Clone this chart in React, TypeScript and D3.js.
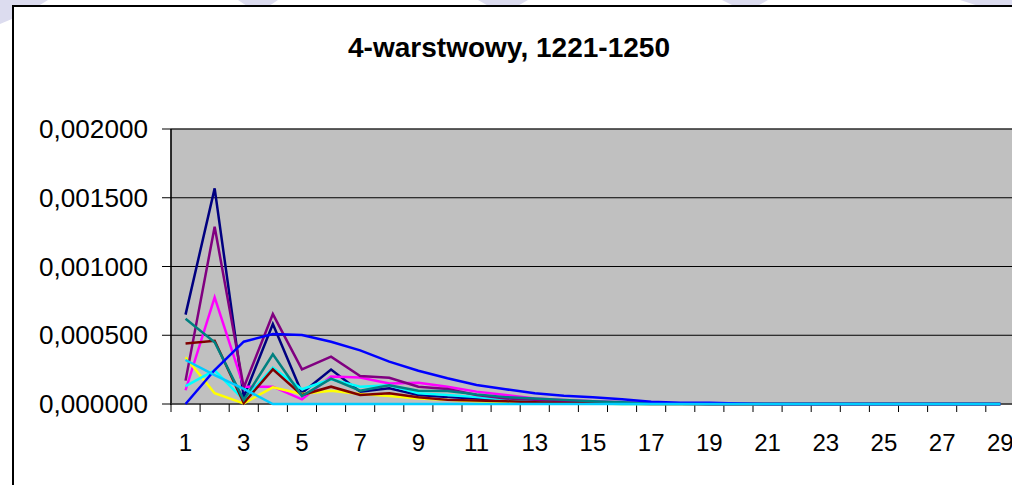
import * as d3 from 'd3';
import React from 'react';

// categories 1..29
const categories = [
  1, 2, 3, 4, 5, 6, 7, 8, 9, 10, 11, 12, 13, 14, 15, 16, 17, 18, 19, 20, 21, 22, 23, 24, 25, 26, 27, 28, 29,
];

const navy = [
  0.00065, 0.001568, 0.00005, 0.000582, 0.00008, 0.00025, 0.00009, 0.000114, 0.000065, 0.00005, 0.00004,
  0.00003, 0.00002, 0.000015, 0.00001, 0.000006, 0.000003, 0.000002, 0, 0, 0, 0, 0, 0, 0, 0, 0, 0, 0,
];
const magenta = [
  0.0001, 0.000776, 0.000126, 0.000126, 0.000034, 0.0002, 0.000192, 0.00015, 0.000155, 0.000126, 0.00009,
  0.000065, 0.00004, 0.00003, 0.00002, 0.000012, 0.000006, 0.000003, 0, 0, 0, 0, 0, 0, 0, 0, 0, 0, 0,
];
const yellow = [
  0.00034, 0.000078, 0.000005, 0.000121, 0.000073, 0.000097, 0.000073, 0.000058, 0.00004, 0.00003, 0.00002,
  0.000015, 0.00001, 0.000005, 0.000003, 0, 0, 0, 0, 0, 0, 0, 0, 0, 0, 0, 0, 0, 0,
];
const cyan = [
  0.00013, 0.000245, 0.00003, 0.000264, 0.000107, 0.00018, 0.000126, 0.000136, 0.000078, 0.000065, 0.00005,
  0.00003, 0.00002, 0.00001, 0.000005, 0, 0, 0, 0, 0, 0, 0, 0, 0, 0, 0, 0, 0, 0,
];
const purple = [
  0.00017, 0.001289, 0.00012, 0.000654, 0.000252, 0.000344, 0.000204, 0.000191, 0.000126, 0.000109, 0.000065,
  0.00004, 0.00003, 0.00002, 0.000012, 0.000008, 0.000004, 0.000002, 0, 0, 0, 0, 0, 0, 0, 0, 0, 0, 0,
];
const darkRed = [
  0.00044, 0.00046, 0.000007, 0.000252, 0.000065, 0.000126, 0.000065, 0.000078, 0.000049, 0.00003, 0.000025,
  0.00002, 0.000012, 0.000008, 0.000005, 0.000003, 0, 0, 0, 0, 0, 0, 0, 0, 0, 0, 0, 0, 0,
];
const teal = [
  0.00062, 0.000449, 0.00003, 0.000361, 0.000058, 0.000185, 0.000097, 0.000136, 0.000097, 0.000095, 0.00007,
  0.00005, 0.00004, 0.00003, 0.00002, 0.000012, 0.000006, 0.000003, 0, 0, 0, 0, 0, 0, 0, 0, 0, 0, 0,
];
const blue = [
  0, 0.000247, 0.000453, 0.000509, 0.000502, 0.000453, 0.00039, 0.000308, 0.000242, 0.000187, 0.000138,
  0.000107, 0.000078, 0.00006, 0.000049, 0.000034, 0.000017, 0.00001, 0.00001, 0.000003, 0, 0, 0, 0, 0, 0, 0, 0, 0,
];
const skyBlue = [
  0.00032, 0.00021, 0.00011, 0, 0, 0, 0, 0, 0, 0, 0, 0, 0, 0, 0, 0, 0, 0, 0, 0, 0, 0, 0, 0, 0, 0, 0, 0, 0,
];

const seriesList = [
  { name: 'S1', color: '#000080', values: navy },
  { name: 'S2', color: '#FF00FF', values: magenta },
  { name: 'S3', color: '#FFFF00', values: yellow },
  { name: 'S4', color: '#00FFFF', values: cyan },
  { name: 'S5', color: '#800080', values: purple },
  { name: 'S6', color: '#800000', values: darkRed },
  { name: 'S7', color: '#008080', values: teal },
  { name: 'S8', color: '#0000FF', values: blue },
  { name: 'S9', color: '#00CCFF', values: skyBlue },
];

const yTicks = [0, 0.0005, 0.001, 0.0015, 0.002];
const title = '4-warstwowy, 1221-1250';

const W = 1012;
const H = 485;
const font = '"Liberation Sans", Arial, sans-serif';

export default function App() {
  const plotLeft = 171;
  const band = 29.1;
  const plotTop = 129;
  const plotBottom = 404;

  const x = d3
    .scaleBand<number>()
    .domain(categories)
    .range([plotLeft, plotLeft + band * categories.length])
    .padding(0);
  const y = d3.scaleLinear().domain([0, 0.002]).range([plotBottom, plotTop]);
  const plotRight = x.range()[1];

  const line = d3
    .line<number>()
    .x((_, i) => (x(categories[i]) as number) + x.bandwidth() / 2)
    .y((d) => y(d));

  const fmt = (v: number) => d3.format('.6f')(v).replace('.', ',');

  return (
    <svg
      width={W}
      height={H}
      style={{ position: 'absolute', left: 0, top: 0, background: '#fff' }}
    >
      {/* slide background decoration */}
      <g fill="#dcdcef">
        <path d="M0,0 L48,0 Q30,12 0,24 Z" />
        <path d="M238,0 L278,0 L266,8 L250,8 Z" />
        <path d="M478,0 L528,0 L514,8 L492,8 Z" />
        <path d="M722,0 L768,0 L754,8 L738,8 Z" />
        <path d="M960,0 L1012,0 L1012,8 L985,8 Z" />
      </g>

      {/* chart area */}
      <rect x={13} y={6} width={1100} height={600} fill="#fff" stroke="#000" strokeWidth={2} />

      <text
        x={509}
        y={57}
        textAnchor="middle"
        fontFamily={font}
        fontWeight="bold"
        fontSize={27}
        textLength={322}
        lengthAdjust="spacingAndGlyphs"
        fill="#000"
      >
        {title}
      </text>

      {/* plot area */}
      <rect
        x={plotLeft}
        y={plotTop}
        width={plotRight - plotLeft}
        height={plotBottom - plotTop}
        fill="#C0C0C0"
        stroke="#808080"
        strokeWidth={1}
      />
      {yTicks.map((t) => (
        <g key={t}>
          {t > 0 && (
            <line x1={plotLeft} x2={plotRight} y1={y(t)} y2={y(t)} stroke="#000" strokeWidth={1} />
          )}
          <line x1={162} x2={plotLeft} y1={y(t)} y2={y(t)} stroke="#000" strokeWidth={1} />
          <text
            x={148}
            y={y(t)}
            dy="0.36em"
            textAnchor="end"
            fontFamily={font}
            fontSize={25}
            textLength={109}
            lengthAdjust="spacingAndGlyphs"
            fill="#000"
          >
            {fmt(t)}
          </text>
        </g>
      ))}

      {/* axes */}
      <line x1={plotLeft} x2={plotLeft} y1={plotTop} y2={plotBottom + 1} stroke="#000" strokeWidth={1.5} />
      <line x1={plotLeft} x2={plotRight} y1={plotBottom} y2={plotBottom} stroke="#333" strokeWidth={1.5} />
      {categories.map((c) => (
        <line
          key={'t' + c}
          x1={(x(c) as number)}
          x2={(x(c) as number)}
          y1={plotBottom}
          y2={plotBottom + 8}
          stroke="#000"
          strokeWidth={1}
        />
      ))}
      {categories
        .filter((c) => c % 2 === 1)
        .map((c) => (
          <text
            key={'l' + c}
            x={(x(c) as number) + x.bandwidth() / 2}
            y={451}
            textAnchor="middle"
            fontFamily={font}
            fontSize={24}
            fill="#000"
          >
            {c}
          </text>
        ))}

      {/* series */}
      {seriesList.map((s) => (
        <path
          key={s.name}
          d={line(s.values) || ''}
          fill="none"
          stroke={s.color}
          strokeWidth={2.5}
          strokeLinejoin="miter"
        />
      ))}
    </svg>
  );
}
